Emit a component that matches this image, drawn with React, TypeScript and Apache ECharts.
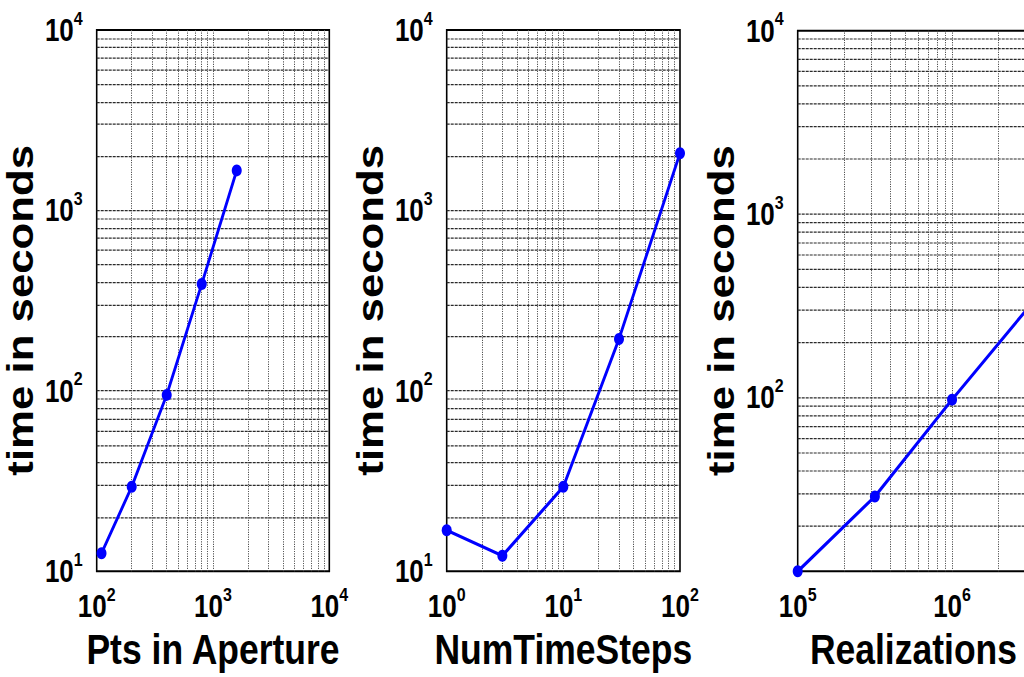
import React, { useEffect, useRef } from "react";
import * as echarts from "echarts";

// The original figure is stretched vertically; the chart is drawn unstretched and scaled back.
const S = 1.2;
const FONT = "'Liberation Sans', Arial, Helvetica, sans-serif";
const CHART_W = 1080;

// Panel 1: Pts in Aperture
const apertureX = [110, 200, 400, 800, 1600];
const apertureT = [12.6, 29.4, 95, 391, 1667];
// Panel 2: NumTimeSteps
const timeStepsX = [1, 3, 10, 30, 100];
const timeStepsT = [16.9, 12.2, 29.4, 194, 2075];
// Panel 3: Realizations
const realizationsX = [1e5, 316228, 1e6, 3162278];
const realizationsT = [11.25, 28.8, 97.2, 313];

const xTitles = ["Pts in Aperture", "NumTimeSteps", "Realizations"];
const yTitle = "time in seconds";
const xRanges = [
  [100, 10000],
  [1, 100],
  [1e5, 3162278],
];
const yRanges = [
  [10, 10000],
  [10, 10000],
  [11.25, 10000],
];

// layout (page pixels)
const lefts = [96.7, 446.7, 797.7];
const widths = [232.6, 233.3, 231.5];
const tops = [30, 30, 30.7];
const bottoms = [576, 576, 576.7];

function gridValues(min: number, max: number): number[] {
  const out: number[] = [];
  const k0 = Math.floor(Math.log10(min));
  const k1 = Math.ceil(Math.log10(max));
  for (let k = k0; k <= k1; k++) {
    for (let m = 1; m <= 9; m++) {
      const v = m * Math.pow(10, k);
      if (v > min * 1.0001 && v < max * 0.9999) out.push(v);
    }
  }
  return out;
}

const fmt = (v: number) => {
  const e = Math.log10(v);
  const r = Math.round(e);
  if (Math.abs(e - r) > 1e-6) return "";
  return `{b|10}{s|${r}}`;
};

const rich = {
  b: {
    fontSize: 26,
    fontWeight: "bold",
    fontFamily: FONT,
    color: "#000",
    lineHeight: 36,
  },
  s: {
    fontSize: 16,
    fontWeight: "bold",
    fontFamily: FONT,
    color: "#000",
    lineHeight: 16,
    verticalAlign: "top",
  },
};

export default function App() {
  const ref = useRef<HTMLDivElement>(null);
  useEffect(() => {
    if (!ref.current) return;
    const chart = echarts.init(ref.current, null, { renderer: "svg" });
    const xs = [apertureX, timeStepsX, realizationsX];
    const ys = [apertureT, timeStepsT, realizationsT];

    const grid = [0, 1, 2].map((i) => ({
      left: lefts[i],
      width: widths[i],
      top: tops[i] / S,
      height: (bottoms[i] - tops[i]) / S,
      show: true,
      borderColor: "#000",
      borderWidth: 1.6,
      backgroundColor: "transparent",
    }));

    const xAxis = [0, 1, 2].map((i) => ({
      type: "log",
      logBase: 10,
      gridIndex: i,
      min: xRanges[i][0],
      max: xRanges[i][1],
      axisLine: { show: false },
      axisTick: { show: false },
      splitLine: { show: false },
      axisLabel: { formatter: fmt, rich, margin: 11 },
      name: xTitles[i],
      nameLocation: "middle",
      nameGap: 46,
      nameTextStyle: {
        fontSize: 35.5,
        fontWeight: "bold",
        fontFamily: FONT,
        color: "#000",
      },
    }));

    const yAxis = [0, 1, 2].map((i) => ({
      type: "log",
      logBase: 10,
      gridIndex: i,
      min: yRanges[i][0],
      max: yRanges[i][1],
      axisLine: { show: false },
      axisTick: { show: false },
      splitLine: { show: false },
      axisLabel: { formatter: fmt, rich, margin: 14 },
      name: yTitle,
      nameLocation: "middle",
      nameGap: 57,
      nameTextStyle: {
        fontSize: 36.5,
        fontWeight: "bold",
        fontFamily: FONT,
        color: "#000",
        padding: [0, 16, 0, 0],
      },
    }));

    const series: any[] = [];
    [0, 1, 2].forEach((i) => {
      const data = xs[i].map((x, j) => [x, ys[i][j]]);
      const vLines = gridValues(xRanges[i][0], xRanges[i][1]).map((v) => ({
        xAxis: v,
        lineStyle: { color: "#555", width: 1, type: [1, 1] },
      }));
      const hLines = gridValues(yRanges[i][0], yRanges[i][1]).map((v) => ({
        yAxis: v,
        lineStyle: { color: "#2a2a2a", width: 1, type: [3, 1] },
      }));
      series.push({
        type: "line",
        xAxisIndex: i,
        yAxisIndex: i,
        data,
        symbol: "none",
        lineStyle: { opacity: 0 },
        silent: true,
        z: 1,
        markLine: {
          silent: true,
          symbol: ["none", "none"],
          label: { show: false },
          animation: false,
          data: [...vLines, ...hLines],
        },
      });
      series.push({
        type: "line",
        xAxisIndex: i,
        yAxisIndex: i,
        data,
        symbol: "circle",
        symbolSize: 10,
        showSymbol: true,
        clip: false,
        lineStyle: { color: "#0000ff", width: 2.8 },
        itemStyle: { color: "#0000ff" },
        z: 5,
      });
    });

    chart.setOption({
      animation: false,
      backgroundColor: "#fff",
      grid,
      xAxis,
      yAxis,
      series,
    });
    return () => chart.dispose();
  }, []);

  return (
    <div
      style={{
        position: "absolute",
        left: 0,
        top: 0,
        width: 1024,
        height: 677,
        overflow: "hidden",
        background: "#fff",
      }}
    >
      <div
        ref={ref}
        style={{
          position: "absolute",
          left: 0,
          top: 0,
          width: CHART_W,
          height: Math.floor(677 / S),
          transform: `scaleY(${S})`,
          transformOrigin: "0 0",
          background: "#fff",
        }}
      />
    </div>
  );
}
